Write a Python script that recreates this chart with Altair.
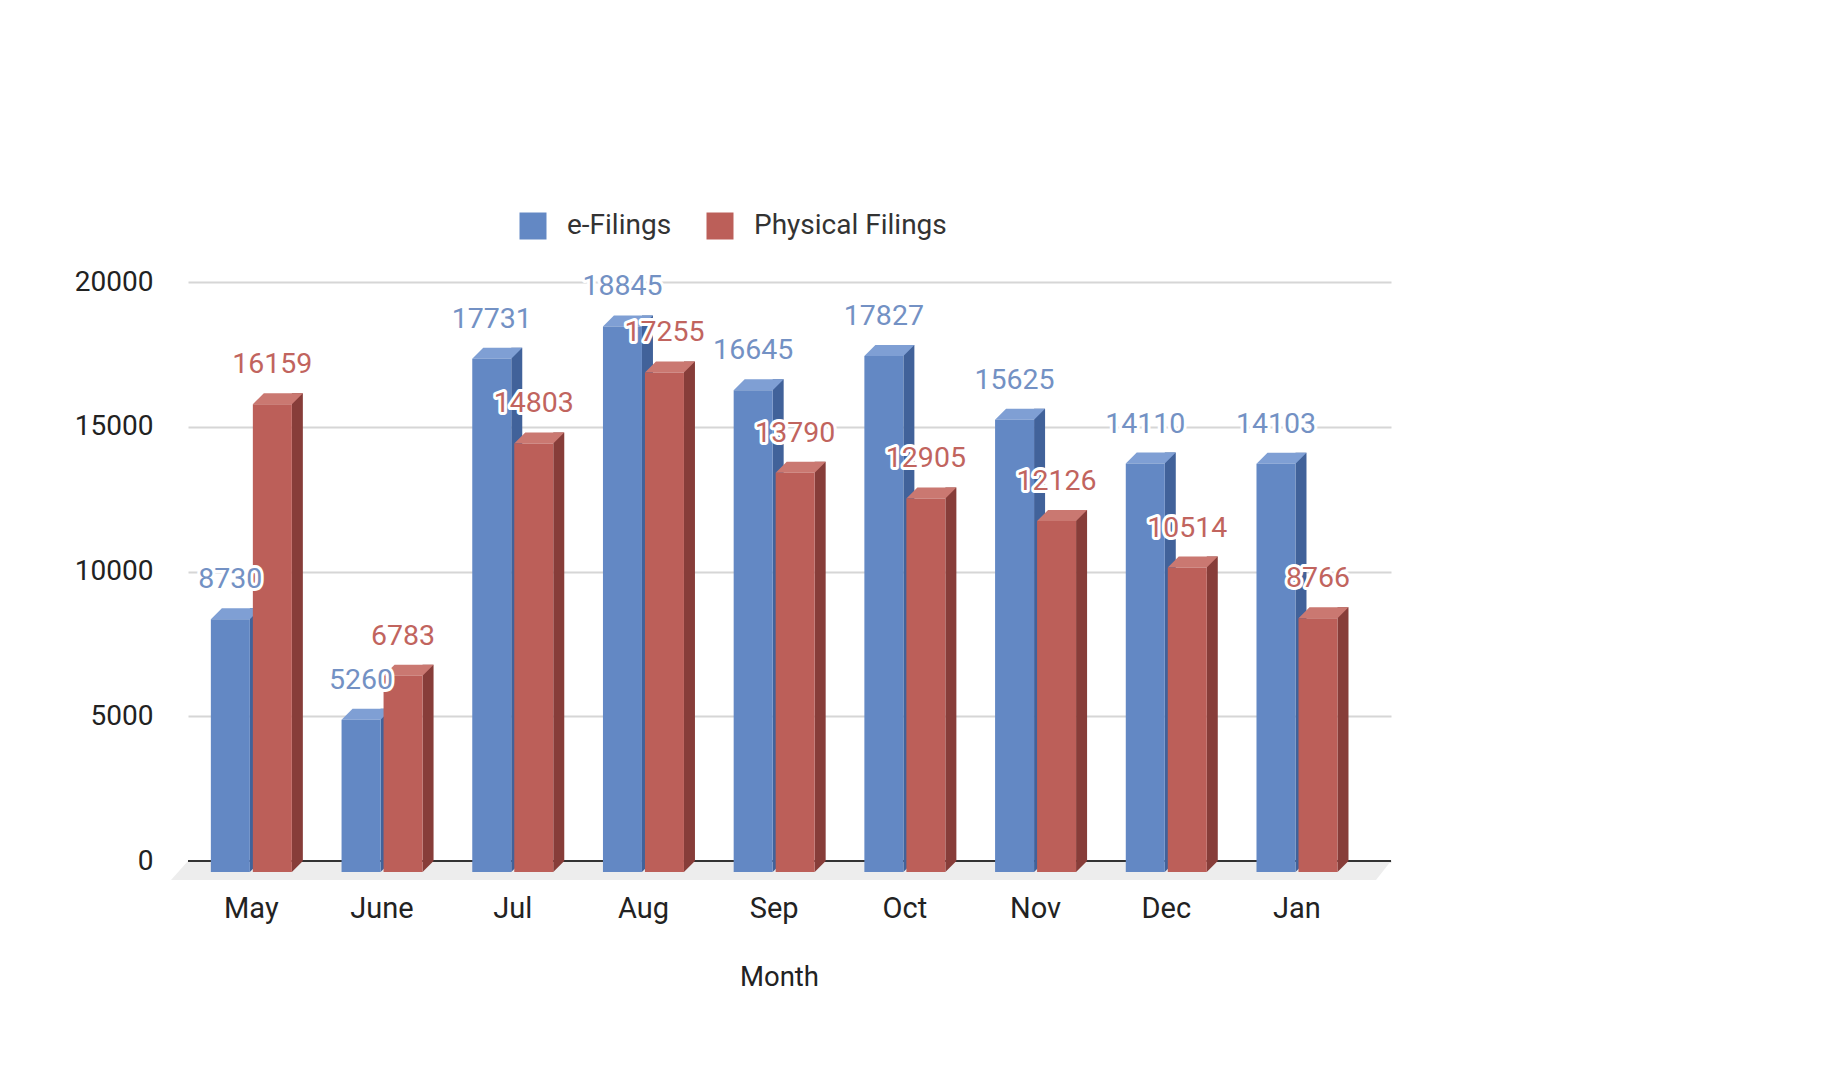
import altair as alt
import pandas as pd

# ---------------- data ----------------
months = ["May", "June", "Jul", "Aug", "Sep", "Oct", "Nov", "Dec", "Jan"]
e_filings = [8730, 5260, 17731, 18845, 16645, 17827, 15625, 14110, 14103]
physical_filings = [16159, 6783, 14803, 17255, 13790, 12905, 12126, 10514, 8766]
series_names = ["e-Filings", "Physical Filings"]
y_ticks = [0, 5000, 10000, 15000, 20000]

rows = []
for i, m in enumerate(months):
    rows.append({"month": m, "series": series_names[0], "value": e_filings[i]})
    rows.append({"month": m, "series": series_names[1], "value": physical_filings[i]})
df = pd.DataFrame(rows)
base_df = pd.DataFrame({"v": [0]})

# ---------------- style ----------------
W, H = 1203, 579
FONT = "Roboto"
FW = 39   # front face width
D = 11    # 3D depth
styles = {
    "e-Filings": dict(center=-23, front="#6388c4", side="#41629a", top="#7f9fd4", label="#7391c4"),
    "Physical Filings": dict(center=19, front="#bc5f59", side="#873d39", top="#ca7871", label="#c1645e"),
}

x_scale = alt.Scale(domain=months, paddingInner=0, paddingOuter=0.102, align=0)
x_axis = alt.Axis(title="Month", labelFont=FONT, labelFontSize=29, labelColor="#222222",
                  labelAngle=0, labelPadding=47, labelBaseline="middle", labelOffset=-2,
                  domain=False, ticks=False, grid=False,
                  titleFont=FONT, titleFontSize=27.5, titleFontWeight="normal",
                  titleColor="#222222", titleY=116, titleX=591, titleBaseline="middle")
y_scale = alt.Scale(domain=[0, 20000], nice=False)
y_axis = alt.Axis(values=y_ticks, format="d", title=None, labelFont=FONT, labelFontSize=28,
                  labelColor="#222222", labelPadding=35, domain=False, ticks=False, tickSize=0,
                  grid=True, gridColor="#d6d6d6", gridWidth=2)

X = alt.X("month:N", sort=months, scale=x_scale, axis=x_axis)
Y = alt.Y("value:Q", scale=y_scale, axis=y_axis)

legend = alt.Legend(title=None, orient="none", legendX=331, legendY=-70, direction="horizontal",
                    symbolType="square", symbolSize=729, symbolStrokeWidth=0, symbolOpacity=1,
                    labelFont=FONT, labelFontSize=28, labelColor="#333333", labelOffset=20,
                    labelLimit=400, columnPadding=34, padding=0)
color = alt.Color("series:N",
                  scale=alt.Scale(domain=series_names,
                                  range=[styles[s]["front"] for s in series_names]),
                  legend=legend)

# ---------------- layers ----------------
floor = alt.Chart(base_df).mark_point(
    shape=f"M 0 0 L {W} 0 L {W-15} 19 L -17 19 Z", size=4, filled=True, opacity=1,
    color="#ededed", strokeWidth=0
).encode(x=alt.value(0), y=alt.Y("v:Q", scale=y_scale, axis=y_axis))

zero_line = alt.Chart(base_df).mark_rule(color="#333333", strokeWidth=2).encode(
    x=alt.value(0), x2=alt.value(W), y=alt.Y("v:Q", scale=y_scale, axis=y_axis))

layers = [floor, zero_line]
for s in series_names:
    st = styles[s]
    c = st["center"]
    xl = c - FW / 2
    xr = c + FW / 2
    src = alt.Chart(df).transform_filter(alt.datum.series == s)
    side = src.mark_bar(width=D, xOffset=xr + D / 2, color=st["side"]).encode(x=X, y=Y)
    side_bottom = src.mark_point(
        shape=f"M {xr} 0 L {xr + D} 0 L {xr} {D} Z", size=4, filled=True, opacity=1,
        color=st["side"], strokeWidth=0
    ).encode(x=X, y=alt.YDatum(0))
    top = src.mark_point(
        shape=f"M {xl} {D} L {xr} {D} L {xr + D} 0 L {xl + D} 0 Z", size=4, filled=True,
        opacity=1, color=st["top"], strokeWidth=0
    ).encode(x=X, y=Y)
    front = src.mark_bar(width=FW, xOffset=c, yOffset=D, y2Offset=D).encode(
        x=X, y=Y, color=color)
    layers += [side, side_bottom, top, front]

LFS = 28.5
for s in series_names:
    st = styles[s]
    src = alt.Chart(df).transform_filter(alt.datum.series == s)
    halo = src.mark_text(font=FONT, fontSize=LFS, dx=st["center"], dy=-29, baseline="middle",
                         align="center", color="white", stroke="white", strokeWidth=6,
                         strokeJoin="round").encode(x=X, y=Y, text=alt.Text("value:Q", format="d"))
    txt = src.mark_text(font=FONT, fontSize=LFS, dx=st["center"], dy=-29, baseline="middle",
                        align="center", color=st["label"]).encode(
        x=X, y=Y, text=alt.Text("value:Q", format="d"))
    layers += [halo, txt]

chart = alt.layer(*layers).properties(
    width=W, height=H,
    padding={"left": 180, "top": 274, "right": 437, "bottom": 200},
    autosize=alt.AutoSizeParams(type="none"),
).configure_view(stroke=None)

chart.save("out.html", embed_options={"renderer": "svg", "actions": False})
